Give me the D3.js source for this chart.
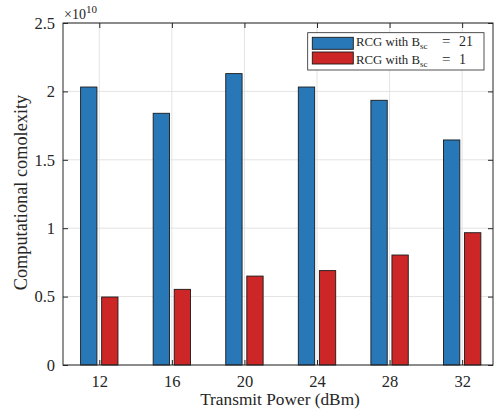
<!DOCTYPE html>
<html><head><meta charset="utf-8">
<script src="https://cdn.jsdelivr.net/npm/d3@7"></script>
<style>body{margin:0;background:#fff}svg{display:block}</style>
</head><body><div id="c"></div>
<script>
const power = [12, 16, 20, 24, 28, 32];
const bsc21 = [2.032, 1.84, 2.13, 2.032, 1.935, 1.645];
const bsc1 = [0.497, 0.553, 0.65, 0.69, 0.804, 0.967];
const yTicks = [0, 0.5, 1, 1.5, 2, 2.5];
const yTickLabels = ["0", "0.5", "1", "1.5", "2", "2.5"];
const seriesNames = ["21", "1"];
const colors = ["#2878b8", "#cc2626"];
const FONT = '"Liberation Serif", "Times New Roman"';

const W = 498, H = 419;
const L = 63, R = 493, T = 23, B = 365;
const svg = d3.select("#c").append("svg").attr("width", W).attr("height", H)
  .attr("font-family", FONT);
const x = d3.scaleLinear().domain([10, 33.7]).range([L, R]);
const y = d3.scaleLinear().domain([0, 2.5]).range([B, T]);
const bw = x(0.9) - x(0), off = x(0.58) - x(0);

const g = svg.append("g");
g.selectAll(".gy").data(yTicks).enter().append("line")
 .attr("x1", L).attr("x2", R).attr("y1", d => y(d)).attr("y2", d => y(d))
 .attr("stroke", "#e3e3e3").attr("stroke-width", 1);
g.selectAll(".gx").data(power).enter().append("line")
 .attr("y1", T).attr("y2", B).attr("x1", d => x(d)).attr("x2", d => x(d))
 .attr("stroke", "#e3e3e3").attr("stroke-width", 1);

const series = [bsc21, bsc1];
series.forEach((s, i) => {
  svg.append("g").selectAll("rect").data(s).enter().append("rect")
   .attr("x", (d, j) => x(power[j]) + (i === 0 ? -off : off) - bw / 2)
   .attr("width", bw)
   .attr("y", d => y(d)).attr("height", d => y(0) - y(d))
   .attr("fill", colors[i]).attr("stroke", "#1a1a1a").attr("stroke-width", 0.9);
});

svg.append("rect").attr("x", L).attr("y", T).attr("width", R - L).attr("height", B - T)
 .attr("fill", "none").attr("stroke", "#262626").attr("stroke-width", 1);
const yAxis = d3.axisLeft(y).tickValues(yTicks).tickFormat((d, i) => yTickLabels[i]).tickSizeInner(-5).tickSizeOuter(0).tickPadding(8);
const ya = svg.append("g").attr("transform", `translate(${L},0)`).call(yAxis);
const yAxisR = d3.axisRight(y).tickValues(yTicks).tickFormat("").tickSizeInner(-5).tickSizeOuter(0);
const yr = svg.append("g").attr("transform", `translate(${R},0)`).call(yAxisR);
const xAxis = d3.axisBottom(x).tickValues(power).tickFormat(d3.format("d")).tickSizeInner(-5).tickSizeOuter(0).tickPadding(10);
const xa = svg.append("g").attr("transform", `translate(0,${B})`).call(xAxis);
const xAxisT = d3.axisTop(x).tickValues(power).tickFormat("").tickSizeInner(-5).tickSizeOuter(0);
const xt = svg.append("g").attr("transform", `translate(0,${T})`).call(xAxisT);
[ya, yr, xa, xt].forEach(a => {
  a.attr("font-family", FONT);
  a.select(".domain").remove();
  a.selectAll("line").attr("stroke", "#262626");
  a.selectAll("text").attr("font-family", FONT).attr("font-size", 16.5).attr("fill", "#262626");
});

const ex = svg.append("text").attr("x", L + 1).attr("y", 19).attr("font-size", 14).attr("fill", "#262626");
ex.append("tspan").text("×10");
ex.append("tspan").attr("dy", -6).attr("font-size", 11).text("10");

svg.append("text").attr("x", 280).attr("y", 405).attr("text-anchor", "middle")
 .attr("font-size", 17.3).attr("fill", "#262626").text("Transmit Power (dBm)");
svg.append("text").attr("transform", `translate(27,192.5) rotate(-90)`).attr("text-anchor", "middle")
 .attr("font-size", 18.3).attr("fill", "#262626").text("Computational comolexity");

const lg = svg.append("g");
lg.append("rect").attr("x", 307.7).attr("y", 32.7).attr("width", 176.3).attr("height", 37.3)
 .attr("fill", "#fff").attr("stroke", "#262626").attr("stroke-width", 0.8);
seriesNames.forEach((n, i) => {
  const yy = 37.3 + i * 14.7;
  lg.append("rect").attr("x", 312.3).attr("y", yy).attr("width", 41).attr("height", 12)
   .attr("fill", colors[i]).attr("stroke", "#1a1a1a").attr("stroke-width", 0.9);
  const by = 46 + i * 17.8;
  lg.append("text").attr("x", 356).attr("y", by).attr("font-size", 12.8).attr("fill", "#262626").text("RCG with B");
  lg.append("text").attr("x", 420).attr("y", by + 3).attr("font-size", 9).attr("fill", "#262626").text("sc");
  const eq = lg.append("text").attr("x", 442).attr("y", by).attr("font-size", 15).attr("fill", "#262626");
  eq.append("tspan").text("= ");
  eq.append("tspan").attr("x", 459).attr("font-size", 14).text(n);
});
</script></body></html>
